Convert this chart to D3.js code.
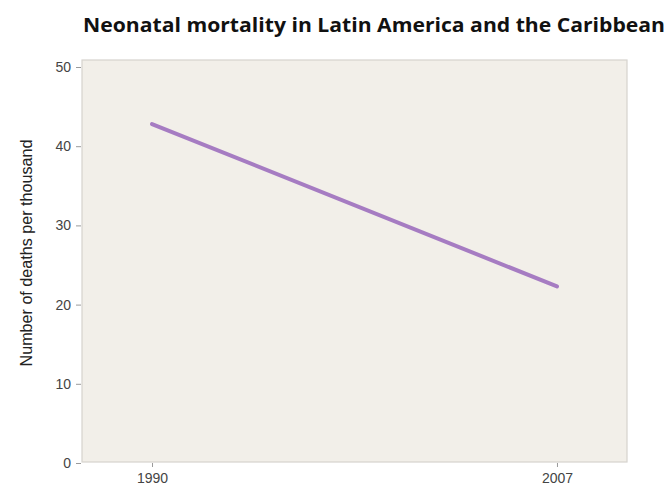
<!DOCTYPE html>
<html><head><meta charset="utf-8">
<script src="https://cdn.jsdelivr.net/npm/d3@7"></script>
<style>body{margin:0;background:#fff}svg{display:block}</style>
</head><body>
<svg id="c" width="668" height="493"></svg>
<script>
const years = [1990, 2007];
const deaths = [42.8, 22.3];
const yTicks = [0, 10, 20, 30, 40, 50];
const title = "Neonatal mortality in Latin America and the Caribbean";
const yLabel = "Number of deaths per thousand";

const svg = d3.select("#c");
const x = d3.scaleLinear().domain([1987.06, 2009.94]).range([82, 627]);
const y = d3.scaleLinear().domain([0, 50]).range([463, 67]);
const plotTop = 60, plotBottom = 462;

svg.append("rect").attr("x", x.range()[0]).attr("y", plotTop)
  .attr("width", x.range()[1] - x.range()[0]).attr("height", plotBottom - plotTop)
  .attr("fill", "#f2efe9").attr("stroke", "#d6d3ce").attr("stroke-width", 1.2);

const tickFont = "'Liberation Sans Narrow', 'Liberation Sans', Arial, sans-serif";
const yAxis = svg.append("g").attr("transform", `translate(${x.range()[0] - 1},0)`)
  .call(d3.axisLeft(y).tickValues(yTicks).tickSize(5).tickPadding(5));
yAxis.select(".domain").remove();
yAxis.selectAll("line").attr("stroke", "#9a9a9a");
yAxis.selectAll("text").attr("fill", "#444").style("font-family", tickFont).style("font-size", "14px");

const xAxis = svg.append("g").attr("transform", `translate(0,${plotBottom + 1})`)
  .call(d3.axisBottom(x).tickValues(years).tickFormat(d3.format("d")).tickSize(4).tickPadding(6));
xAxis.select(".domain").remove();
xAxis.selectAll("line").attr("stroke", "#9a9a9a");
xAxis.selectAll("text").attr("fill", "#444").style("font-family", tickFont).style("font-size", "14px");

const line = d3.line().x((d, i) => x(years[i])).y(d => y(d));
svg.append("path").datum(deaths).attr("d", line)
  .attr("fill", "none").attr("stroke", "#a67cc2").attr("stroke-width", 4).attr("stroke-linecap", "round");

svg.append("text").attr("x", 83).attr("y", 32).attr("text-anchor", "start")
  .attr("textLength", 582).attr("lengthAdjust", "spacingAndGlyphs")
  .style("font-family", "'Open Sans', sans-serif").style("font-weight", "bold").style("font-size", "20px")
  .attr("fill", "#111").text(title);

svg.append("text").attr("transform", "translate(32,253) rotate(-90)").attr("text-anchor", "middle")
  .attr("textLength", 227).attr("lengthAdjust", "spacingAndGlyphs")
  .style("font-family", "'Liberation Sans Narrow', 'Liberation Sans', Arial, sans-serif").style("font-size", "16px")
  .attr("fill", "#222").text(yLabel);
</script>
</body></html>
